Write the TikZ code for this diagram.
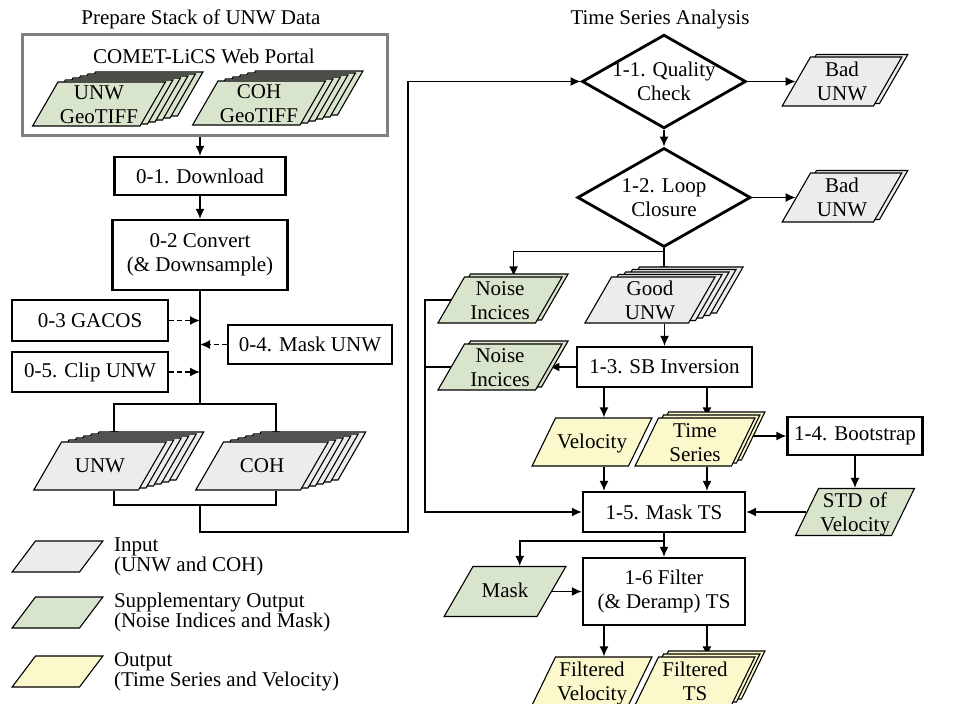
\documentclass[tikz,border=0pt]{standalone}
\usepackage{fontspec}
\setmainfont{Liberation Serif}
\usetikzlibrary{shapes.geometric, arrows.meta, positioning, backgrounds}

\definecolor{ingray}{HTML}{ECECEC}
\definecolor{supgreen}{HTML}{D8E4CC}
\definecolor{outyellow}{HTML}{FBF8CC}
\definecolor{portalgray}{HTML}{7F7F7F}

\tikzset{
  procbox/.style={draw, line width=2.2pt, align=center, inner sep=2pt},
  check/.style={diamond, draw, line width=2.8pt, aspect=1.75, align=center},
  sheet/.style={trapezium, trapezium left angle=60, trapezium right angle=120,
    draw, line width=1.1pt, align=center, inner xsep=1pt,
    text width=75pt, text height=15pt},
  oneline/.style={text height=16pt, text depth=4pt, inner ysep=14pt},
  twoline/.style={text height=17pt, text depth=27pt, inner ysep=1pt},
  narrow/.style={trapezium left angle=64, trapezium right angle=116,
    text width=72pt, inner xsep=0.5pt},
  legsheet/.style={sheet, trapezium left angle=53, trapezium right angle=127,
    text width=42pt, text height=0pt, text depth=0pt, inner ysep=15.5pt},
  legtext/.style={align=left, inner sep=1pt, font=\fontsize{21}{20}\selectfont},
  conn/.style={line width=1.6pt},
  arr/.style={conn, -{Latex[length=10pt,width=9pt]}},
  dasharr/.style={arr, dash pattern=on 5pt off 3pt},
}

% stack of sheets: name, position, style, copies, dx, dy, text
\newcommand{\sheetstack}[7]{%
  \foreach \k in {#4,...,1}
    \node[sheet, #3, xshift={\k*#5pt}, yshift={\k*#6pt}] at (#2) {};
  \node[sheet, #3] (#1) at (#2) {#7};
}

\begin{document}
\begin{tikzpicture}[x=1pt, y=-1pt, font=\fontsize{21}{24}\selectfont]
\useasboundingbox (0,0) rectangle (970,704);
\clip (0,0) rectangle (970,704);

% titles
\node (prep) at (201,19) {Prepare Stack of UNW Data};
\node (tsa) at (660,19) {Time Series Analysis};

% web portal with the GeoTIFF stacks
\node[draw=portalgray, line width=3pt, minimum width=365, minimum height=101] (portal) at (204.5,84.5) {};
\node (portaltxt) at (204,56) {COMET-LiCS Web Portal};
\sheetstack{ugeo}{99,104}{twoline, fill=supgreen, text width=80pt, inner ysep=0pt}{5}{7.5}{2}{UNW\\GeoTIFF}
\sheetstack{cgeo}{259,103}{twoline, fill=supgreen, text width=80pt, inner ysep=0pt}{5}{7.5}{2}{COH\\GeoTIFF}

% preparation steps
\node[procbox, minimum width=171, minimum height=38] (dl) at (200,176) {0-1. Download};
\node[procbox, minimum width=175, minimum height=70] (cv) at (200,255) {0-2 Convert\\(\& Downsample)};
\node[procbox, minimum width=156, minimum height=41] (gacos) at (90,320.5) {0-3 GACOS};
\node[procbox, minimum width=164, minimum height=39] (munw) at (310,344.5) {0-4. Mask UNW};
\node[procbox, minimum width=156, minimum height=40] (clip) at (90,372) {0-5. Clip UNW};
\coordinate (split) at (200,404);
\sheetstack{unw}{100,466}{oneline, fill=ingray}{5}{7.5}{2}{UNW}
\sheetstack{coh}{262,466}{oneline, fill=ingray}{5}{7.5}{2}{COH}
\coordinate (join) at (200,505);
\coordinate (turn) at (408,532);

% time series analysis
\node[check, inner sep=-1.3pt] (qc) at (664,81.5) {1-1. Quality\\Check};
\node[check, inner sep=4pt] (lc) at (664,197.5) {1-2. Loop\\Closure};
\sheetstack{bad1}{842,81.5}{twoline, fill=ingray, text width=61pt, inner ysep=2.5pt}{1}{6}{2.5}{Bad\\UNW}
\sheetstack{bad2}{842,197.5}{twoline, fill=ingray, text width=61pt, inner ysep=2.5pt}{1}{6}{2.5}{Bad\\UNW}
\sheetstack{noise1}{500,300}{twoline, fill=supgreen, text width=69pt}{1}{6}{3}{Noise\\Incices}
\sheetstack{good}{650,300}{twoline, fill=ingray}{4}{7}{2.5}{Good\\UNW}
\node[procbox, minimum width=175, minimum height=40] (sb) at (664.5,367) {1-3. SB Inversion};
\sheetstack{noise2}{500,367}{twoline, fill=supgreen, text width=69pt}{1}{6}{3}{Noise\\Incices}
\node[sheet, narrow, oneline, fill=outyellow] (vel) at (592,442) {Velocity};
\sheetstack{ts}{695,442}{narrow, twoline, inner ysep=2pt, fill=outyellow}{2}{5}{3}{Time\\Series}
\node[procbox, minimum width=135, minimum height=38] (boot) at (855,436) {1-4. Bootstrap};
\node[sheet, narrow, twoline, inner ysep=1.5pt, fill=supgreen] (std) at (855,512) {STD of\\Velocity};
\node[procbox, minimum width=162, minimum height=40] (mts) at (664,512) {1-5. Mask TS};
\coordinate (nx) at (425,512);
\node[sheet, oneline, inner ysep=15pt, text width=62pt, fill=supgreen] (mask) at (505,591.5) {Mask};
\node[procbox, minimum width=162, minimum height=67] (filt) at (664,591.5) {1-6 Filter\\(\& Deramp) TS};
\node[sheet, narrow, twoline, inner ysep=2pt, fill=outyellow] (fvel) at (592,681) {Filtered\\Velocity};
\sheetstack{fts}{695,681}{narrow, twoline, inner ysep=2pt, fill=outyellow}{2}{5}{3}{Filtered\\TS}

% legend
\node[legsheet, fill=ingray] (leg1) at (57.5,556.5) {};
\node[legtext, right=21pt of leg1.right side] (legt1) {Input\\(UNW and COH)};
\node[legsheet, fill=supgreen] (leg2) at (57.5,612.5) {};
\node[legtext, right=21pt of leg2.right side] (legt2) {Supplementary Output\\(Noise Indices and Mask)};
\node[legsheet, fill=outyellow] (leg3) at (57.5,671.5) {};
\node[legtext, right=21pt of leg3.right side] (legt3) {Output\\(Time Series and Velocity)};

\begin{scope}[on background layer]
  % preparation flow
  \draw[arr] (portal.south -| dl.north) -- (dl.north);
  \draw[arr] (dl.south) -- (cv.north);
  \draw[conn] (cv.south) -- (split);
  \draw[arr] (split) -| (unw.top side);
  \draw[arr] (split) -| (coh.top side);
  \draw[dasharr] (gacos.east) -- (gacos.east -| cv.south);
  \draw[dasharr] (clip.east) -- (clip.east -| cv.south);
  \draw[dasharr] (munw.west) -- (munw.west -| cv.south);
  \draw[conn] (unw.top side |- unw.south) |- (join);
  \draw[conn] (coh.top side |- coh.south) |- (join);
  \draw[arr] (join) |- (turn) |- (qc.west);
  % analysis flow
  \draw[arr] (qc.east) -- (bad1.left side);
  \draw[arr] (qc.south) -- (lc.north);
  \draw[arr] (lc.east) -- (bad2.left side);
  \draw[arr] (lc.south) -- (lc.south |- good.north);
  \draw[arr] ([yshift=-3pt]lc.south) -| (noise1.top side);
  \draw[arr] (sb.north |- good.south) -- (sb.north);
  \draw[arr] (sb.west) -- (noise2.right side);
  \draw[arr] (vel.top side |- sb.south) -- (vel.top side);
  \draw[arr] (ts.top side |- sb.south) -- (ts.top side);
  \draw[arr] (ts.center |- boot.west) -- (boot.west);
  \draw[arr] (boot.south) -- (boot.south |- std.north);
  \draw[arr] (std.left side) -- (mts.east);
  \draw[arr] (vel.top side |- vel.south) -- (vel.top side |- mts.north);
  \draw[arr] (ts.top side |- ts.south) -- (ts.top side |- mts.north);
  \draw[arr] (noise1.left side) -| (nx) -- (mts.west);
  \draw[conn] (noise2.left side) -- (noise2.left side -| nx);
  \draw[arr] (mts.south) -- (filt.north);
  \draw[arr] ([yshift=-8pt]mts.south) -| (mask.top side);
  \draw[arr] (mask.right side) -- (mask.right side -| filt.west);
  \draw[arr] (fvel.top side |- filt.south) -- (fvel.top side);
  \draw[arr] (fts.top side |- filt.south) -- (fts.top side);
\end{scope}
\end{tikzpicture}
\end{document}
